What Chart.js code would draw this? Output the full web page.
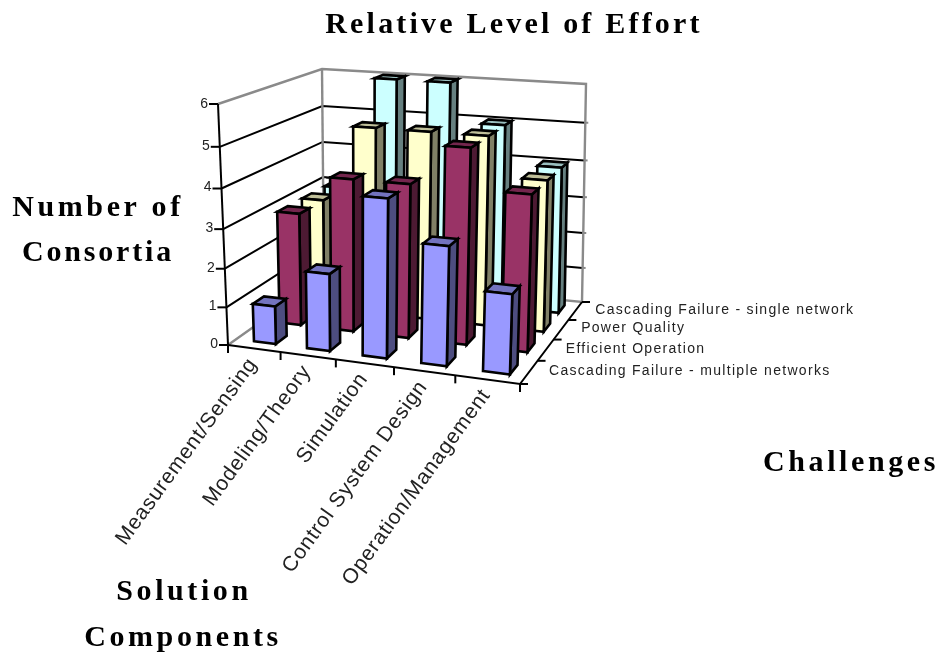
<!DOCTYPE html>
<html>
<head>
<meta charset="utf-8">
<title>Relative Level of Effort</title>
<script src="https://cdn.jsdelivr.net/npm/chart.js@4"></script>
<style>
  html, body { margin: 0; padding: 0; background: #fff; }
  #wrap { width: 940px; height: 652px; }
</style>
</head>
<body>
<div id="wrap"><canvas id="effortChart" width="940" height="652"></canvas></div>
<script>
const components = ['Measurement/Sensing', 'Modeling/Theory', 'Simulation', 'Control System Design', 'Operation/Management'];
const challenges = ['Cascading Failure - multiple networks', 'Efficient Operation', 'Power Quality', 'Cascading Failure - single network'];

const multipleNetworks = [1, 2, 4, 3, 2];
const efficientOperation = [3, 4, 4, 5, 4];
const powerQuality = [3, 5, 5, 5, 4];
const singleNetwork = [3, 6, 6, 5, 4];

const valueTicks = [0, 1, 2, 3, 4, 5, 6];

// front, top and side shades of each series
const shades = [
  ['#9999ff', '#7373bf', '#4d4d80'],
  ['#993366', '#73264d', '#4d1a33'],
  ['#ffffcc', '#bfbf99', '#808066'],
  ['#ccffff', '#99bfbf', '#668080']
];

// corners of the floor and of the plane at the axis maximum: FL, FR, BR, BL
const floorQuad = [[228, 345], [520, 384], [582, 302], [324, 277]];
const topQuad = [[218, 104], [528, 126], [586, 84], [322, 69]];
const heightBend = 1.08; // vertical foreshortening
const barFraction = 0.21; // half a bar, as a share of one cell
const columnShift = 0.05; // bars sit slightly off their cell centre
const rowShift = 0.02;

// unit square to quad
function squareToQuad(q) {
  const [x0, y0] = q[0], [x1, y1] = q[1], [x2, y2] = q[2], [x3, y3] = q[3];
  const dx1 = x1 - x2, dx2 = x3 - x2, sx = x0 - x1 + x2 - x3;
  const dy1 = y1 - y2, dy2 = y3 - y2, sy = y0 - y1 + y2 - y3;
  const det = dx1 * dy2 - dx2 * dy1;
  const g = (sx * dy2 - dx2 * sy) / det;
  const h = (dx1 * sy - sx * dy1) / det;
  const a = x1 - x0 + g * x1, b = x3 - x0 + h * x3;
  const d = y1 - y0 + g * y1, e = y3 - y0 + h * y3;
  return (u, v) => {
    const w = g * u + h * v + 1;
    return [(a * u + b * v + x0) / w, (d * u + e * v + y0) / w];
  };
}
const floorMap = squareToQuad(floorQuad);
const topMap = squareToQuad(topQuad);

const box3d = {
  id: 'box3d',
  beforeDatasetsDraw(chart) {
    const ctx = chart.ctx;
    const { x, y, z } = chart.scales;

    // category index, series index and value to a canvas point, via the scales
    const project = (xv, zv, val) => {
      const u = (x.getPixelForValue(xv) - x.left) / x.width;
      const v = (z.getPixelForValue(zv) - z.left) / z.width;
      const s = (y.bottom - y.getPixelForValue(val)) / (y.bottom - y.top);
      const t = s / (s + (1 - s) * heightBend);
      const a = floorMap(u, v), b = topMap(u, v);
      return [a[0] + (b[0] - a[0]) * t, a[1] + (b[1] - a[1]) * t];
    };

    const line = (pts, color, width) => {
      ctx.beginPath();
      pts.forEach((p, i) => i ? ctx.lineTo(p[0], p[1]) : ctx.moveTo(p[0], p[1]));
      ctx.strokeStyle = color;
      ctx.lineWidth = width;
      ctx.stroke();
    };
    const face = (pts, fill) => {
      ctx.beginPath();
      pts.forEach((p, i) => i ? ctx.lineTo(p[0], p[1]) : ctx.moveTo(p[0], p[1]));
      ctx.closePath();
      ctx.fillStyle = fill;
      ctx.fill();
      ctx.strokeStyle = '#000';
      ctx.lineWidth = 2.6;
      ctx.lineJoin = 'miter';
      ctx.stroke();
    };

    const xLo = -0.5, xHi = components.length - 0.5;
    const zLo = -0.5, zHi = challenges.length - 0.5;
    const vMax = valueTicks[valueTicks.length - 1];

    ctx.save();

    // gridlines on the two walls
    valueTicks.slice(1, -1).forEach(v => {
      line([project(xLo, zLo, v), project(xLo, zHi, v), project(xHi, zHi, v)], '#000', 2);
      const end = project(xHi, zHi, v);
      line([end, [end[0] + 3, end[1]]], '#888', 2);
    });

    // wall frame
    line([project(xLo, zLo, vMax), project(xLo, zHi, vMax), project(xHi, zHi, vMax), project(xHi, zHi, 0), project(xLo, zHi, 0), project(xLo, zLo, 0)], '#8a8a8a', 2.4);
    line([project(xLo, zHi, 0), project(xLo, zHi, vMax)], '#8a8a8a', 2.4);

    // value axis
    line([project(xLo, zLo, 0), project(xLo, zLo, vMax)], '#000', 2);
    ctx.font = '14px "Liberation Sans"';
    ctx.fillStyle = '#222';
    ctx.textAlign = 'right';
    ctx.textBaseline = 'middle';
    valueTicks.forEach(v => {
      const p = project(xLo, zLo, v);
      line([p, [p[0] - 9, p[1]]], '#000', 2);
      ctx.fillText(String(v), p[0] - 10, p[1] - (v === vMax ? 0 : 1));
    });

    // bars, back row first
    for (let s = chart.data.datasets.length - 1; s >= 0; s--) {
      chart.data.datasets[s].data.forEach((val, c) => {
        const x0 = c + columnShift - barFraction, x1 = c + columnShift + barFraction;
        const z0 = s + rowShift - barFraction, z1 = s + rowShift + barFraction;
        const fl0 = project(x0, z0, 0), fr0 = project(x1, z0, 0), br0 = project(x1, z1, 0);
        const flv = project(x0, z0, val), frv = project(x1, z0, val);
        const brv = project(x1, z1, val), blv = project(x0, z1, val);
        face([fr0, br0, brv, frv], shades[s][2]);
        face([flv, frv, brv, blv], shades[s][1]);
        face([fl0, fr0, frv, flv], shades[s][0]);
      });
    }

    // front floor edge and its ticks
    line([project(xLo, zLo, 0), project(xHi, zLo, 0), project(xHi, zHi, 0)], '#000', 2);
    for (let c = xLo; c <= xHi; c++) {
      const p = project(c, zLo, 0);
      line([p, [p[0], p[1] + 8]], '#000', 2);
    }
    for (let s = zLo; s <= zHi; s++) {
      const p = project(xHi, s, 0);
      line([p, [p[0] + 8, p[1]]], '#000', 2);
    }

    // category labels along the front edge
    ctx.font = '21px "Liberation Sans"';
    ctx.fillStyle = '#222';
    ctx.textAlign = 'right';
    ctx.textBaseline = 'middle';
    ctx.letterSpacing = '0.8px';
    components.forEach((name, c) => {
      const p = project(c, zLo, 0);
      ctx.save();
      ctx.translate(p[0] - 1, p[1] + 12);
      ctx.rotate(-54 * Math.PI / 180);
      ctx.fillText(name, 0, 0);
      ctx.restore();
    });

    // series labels along the right floor edge
    ctx.font = '14px "Liberation Sans"';
    ctx.textAlign = 'left';
    ctx.letterSpacing = '1.3px';
    challenges.forEach((name, s) => {
      const p = project(xHi, s, 0);
      ctx.fillText(name, p[0] + 20, p[1] - 1);
    });

    // titles
    ctx.font = 'bold 30px "Liberation Serif"';
    ctx.fillStyle = '#000';
    ctx.textAlign = 'center';
    ctx.letterSpacing = '3.2px';
    ctx.fillText('Relative Level of Effort', 514, 25);
    ctx.letterSpacing = '3.6px';
    ctx.fillText('Number of', 98, 208);
    ctx.fillText('Solution', 184, 592);
    ctx.fillText('Components', 183, 638);
    ctx.fillText('Challenges', 851, 463);
    ctx.letterSpacing = '2.8px';
    ctx.fillText('Consortia', 98, 253);

    ctx.restore();
    return false; // boxes replace the flat bars
  }
};

new Chart(document.getElementById('effortChart'), {
  type: 'bar',
  data: {
    labels: components,
    datasets: [
      { label: challenges[0], data: multipleNetworks, backgroundColor: shades[0][0] },
      { label: challenges[1], data: efficientOperation, backgroundColor: shades[1][0] },
      { label: challenges[2], data: powerQuality, backgroundColor: shades[2][0] },
      { label: challenges[3], data: singleNetwork, backgroundColor: shades[3][0] }
    ]
  },
  options: {
    responsive: false,
    animation: false,
    plugins: { legend: { display: false }, tooltip: { enabled: false } },
    scales: {
      x: { display: false, offset: true },
      z: { type: 'category', axis: 'x', labels: challenges, display: false, offset: true },
      y: { display: false, min: 0, max: 6, ticks: { stepSize: 1 } }
    }
  },
  plugins: [box3d]
});
</script>
</body>
</html>
